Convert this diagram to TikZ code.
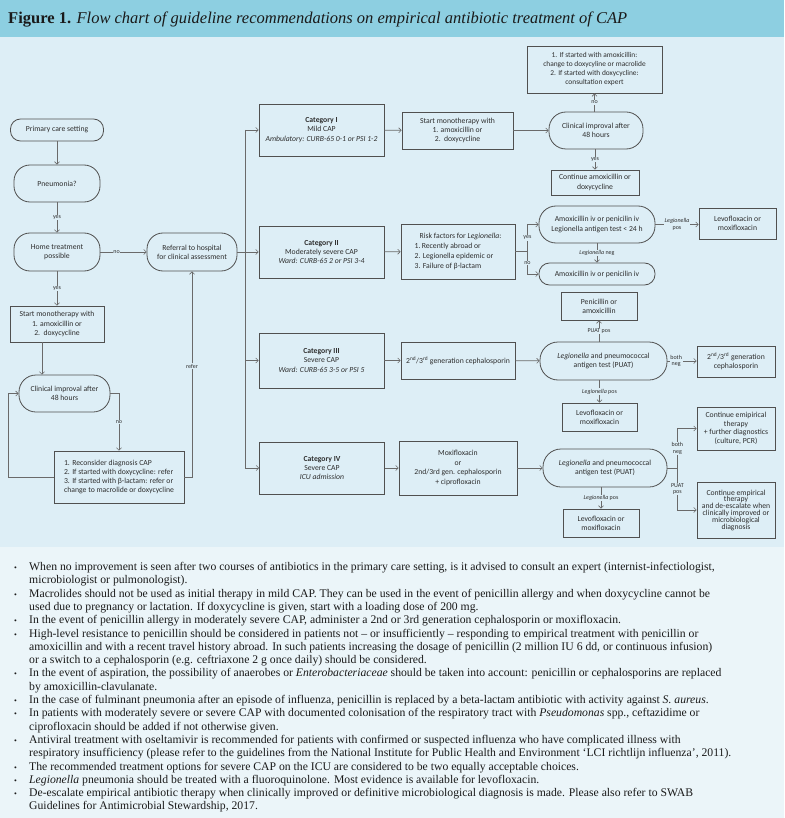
\documentclass[tikz,border=0pt]{standalone}
\usepackage{fontspec}
\setmainfont{Liberation Serif}
\newfontfamily\chartfont{Carlito}
\usetikzlibrary{arrows.meta}
\definecolor{hdr}{HTML}{8DCFE1}
\definecolor{chartbg}{HTML}{DDEEF6}
\definecolor{notebg}{HTML}{EBF5F9}
\definecolor{boxc}{HTML}{505050}
\definecolor{arrc}{HTML}{6A6A6A}
\definecolor{txtc}{HTML}{2E2E2E}
\definecolor{notec}{HTML}{1A1A1A}
\newcommand\notebul{\makebox[17pt][l]{\hspace{2pt}\fontsize{8}{8}\selectfont\textbullet}}
\begin{document}
\begin{tikzpicture}[x=1pt,y=-1pt,
      box/.style={draw=boxc,line width=0.8pt,align=center,inner sep=1pt,text=txtc,
        font=\chartfont\fontsize{7.7}{9.2}\selectfont},
      pill/.style={box,rounded corners=#1},
      lab/.style={fill=chartbg,inner sep=0.6pt,align=center,text=txtc,
        font=\chartfont\fontsize{6}{6.6}\selectfont},
      ln/.style={draw=arrc,line width=0.6pt},
      arr/.style={ln,-{Straight Barb[length=2.5pt,width=5pt]}}]
      \fill[hdr] (0,0) rectangle (784,37);
      \fill[chartbg] (0,37) rectangle (784,547);
      \fill[notebg] (0,547) rectangle (784,818);
      \node[anchor=west,inner sep=0,text=notec,font=\fontsize{16.5}{19}\selectfont] (title) at (8,20)
        {\textbf{Figure 1.} \textit{Flow chart of guideline recommendations on empirical antibiotic treatment of CAP}};
      % primary care
      \node[pill=10pt,minimum width=93pt,minimum height=22pt] (prim) at (57,130) {Primary care setting};
      \node[pill=16pt,minimum width=86pt,minimum height=37pt] (pneu) at (57,183.5) {Pneumonia?};
      \node[pill=16pt,minimum width=86pt,minimum height=38pt] (home) at (57,252) {Home treatment\\possible};
      \node[pill=16pt,minimum width=90pt,minimum height=38pt] (ref) at (192,252) {Referral to hospital\\for clinical assessment};
      \node[box,minimum width=94pt,minimum height=36pt] (mono) at (57,324) {Start monotherapy with\\1. amoxicillin or\\2.\ \ doxycycline};
      \node[pill=17pt,minimum width=91pt,minimum height=37pt] (clin) at (64.5,393.5) {Clinical improval after\\48 hours};
      \node[box,align=left,minimum width=130pt,minimum height=52pt] (recon) at (119,477) {1. Reconsider diagnosis CAP\\2. If started with doxycycline: refer\\3. If started with β-lactam: refer or\\change to macrolide or doxycycline};
      % categories
      \node[box,minimum width=125pt,minimum height=52pt] (c1) at (321.5,130) {\textbf{Category I}\\Mild CAP\\\textit{Ambulatory: CURB-65 0-1 or PSI 1-2}};
      \node[box,minimum width=125pt,minimum height=52pt] (c2) at (321.5,252) {\textbf{Category II}\\Moderately severe CAP\\\textit{Ward: CURB-65 2 or PSI 3-4}};
      \node[box,minimum width=125pt,minimum height=55pt] (c3) at (321.5,360.5) {\textbf{Category III}\\Severe CAP\\\textit{Ward: CURB-65 3-5 or PSI 5}};
      \node[box,minimum width=125pt,minimum height=52pt] (c4) at (322,468) {\textbf{Category IV}\\Severe CAP\\\textit{ICU admission}};
      \node[box,minimum width=111pt,minimum height=37pt] (m1) at (457.5,130.5) {Start monotherapy with\\1. amoxicillin or\\2.\ \ doxycycline};
      \node[box,align=left,font=\chartfont\fontsize{7.7}{9.7}\selectfont,minimum width=114pt,minimum height=55pt] (rf) at (458,251.5) {\hspace*{5pt}Risk factors for \textit{Legionella}:\\1.\,Recently abroad or\\2. Legionella epidemic or\\3. Failure of β-lactam};
      \node[box,minimum width=114pt,minimum height=37pt] (ceph) at (458,360.5) {2\textsuperscript{nd}/3\textsuperscript{rd} generation cephalosporin};
      \node[box,font=\chartfont\fontsize{7.7}{9.7}\selectfont,minimum width=118pt,minimum height=54pt] (moxi) at (458,468) {Moxifloxacin\\or\\2nd/3rd gen. cephalosporin\\+ ciprofloxacin};
      % category I
      \node[box,font=\chartfont\fontsize{7.4}{9}\selectfont,minimum width=135pt,minimum height=47pt] (ex) at (594.5,69.5) {1. If started with amoxicillin:\\change to doxycyline or macrolide\\2. If started with doxycycline:\\consultation expert};
      \node[pill=17pt,minimum width=94pt,minimum height=37pt] (cl1) at (596,130.5) {Clinical improval after\\48 hours};
      \node[box,minimum width=88pt,minimum height=25pt] (cont) at (595,182.5) {Continue amoxicillin or\\doxycycline};
      % category II
      \node[pill=17pt,minimum width=116pt,minimum height=37pt] (amox1) at (597,224.5) {Amoxicillin iv or penicilin iv\\Legionella antigen test < 24 h};
      \node[pill=10.5pt,minimum width=116pt,minimum height=22pt] (amox2) at (597,274) {Amoxicillin iv or penicilin iv};
      \node[box,minimum width=77pt,minimum height=31pt] (levo1) at (737.5,223.5) {Levofloxacin or\\moxifloxacin};
      % category III
      \node[box,minimum width=76pt,minimum height=28pt] (pen) at (599,306) {Penicillin or\\amoxicillin};
      \node[pill=18pt,minimum width=127pt,minimum height=38pt] (puat3) at (603.5,361) {\textit{Legionella} and pneumococcal\\antigen test (PUAT)};
      \node[box,minimum width=78pt,minimum height=31pt] (ceph2) at (736,361.5) {2\textsuperscript{nd}/3\textsuperscript{rd} generation\\cephalosporin};
      \node[box,minimum width=75pt,minimum height=28pt] (levo3) at (599.5,417) {Levofloxacin or\\moxifloxacin};
      % category IV
      \node[pill=18pt,minimum width=124pt,minimum height=38pt] (puat4) at (605,468) {\textit{Legionella} and pneumococcal\\antigen test (PUAT)};
      \node[box,minimum width=76pt,minimum height=28pt] (levo4) at (601,523) {Levofloxacin or\\moxifloxacin};
      \node[box,font=\chartfont\fontsize{7.7}{8.6}\selectfont,minimum width=78pt,minimum height=43pt] (cont4a) at (736,428.5) {Continue emipirical\\therapy\\+ further diagnostics\\(culture, PCR)};
      \node[box,font=\chartfont\fontsize{7.7}{6.8}\selectfont,minimum width=78pt,minimum height=56pt] (cont4b) at (736,510) {Continue empirical\\therapy\\and de-escalate when\\clinically improved or\\microbiological\\diagnosis};
      % connectors
      \draw[arr] (prim) -- (pneu);
      \draw[arr] (pneu) -- (home) node[lab,midway]{yes};
      \draw[arr] (home) -- (ref) node[lab,pos=0.35]{no};
      \draw[arr] (home) -- (mono) node[lab,midway]{yes};
      \draw[arr] ([xshift=-15pt]mono.south) -- ([xshift=-15pt]mono.south |- clin.north);
      \draw[arr] (clin.east) -| (recon.north) node[lab,pos=0.75]{no};
      \draw[arr] (recon.west) -- ++(-45,0) |- (clin.west);
      \draw[arr] (recon.east) -| (ref.south) node[lab,pos=0.77]{refer};
      \draw[ln] (ref.east) -- ++(8,0) coordinate (tr);
      \draw[ln] (tr |- c1.west) -- (tr |- c4.west);
      \draw[arr] (tr |- c1.west) -- (c1.west);
      \draw[arr] (tr |- c2.west) -- (c2.west);
      \draw[arr] (tr |- c3.west) -- (c3.west);
      \draw[arr] (tr |- c4.west) -- (c4.west);
      \draw[arr] (c1) -- (m1);
      \draw[arr] (c2) -- (rf);
      \draw[arr] (c3) -- (ceph);
      \draw[arr] (c4) -- (moxi);
      \draw[arr] (m1) -- (cl1);
      \draw[arr] (ex.south |- cl1.north) -- (ex.south) node[lab,midway]{no};
      \draw[arr] (cont.north |- cl1.south) -- (cont.north) node[lab,midway]{yes};
      \draw[ln] (rf.east) -- ++(12,0) coordinate (b2);
      \draw[arr] (b2) |- (amox1.west) node[lab,pos=0.25]{yes};
      \draw[arr] (b2) |- (amox2.west) node[lab,pos=0.25]{no};
      \draw[arr] (amox1) -- (levo1.west |- amox1) node[lab,midway]{\textit{Legionella}\\pos};
      \draw[arr] (amox1) -- (amox2) node[lab,midway]{\textit{Legionella} neg};
      \draw[arr] (ceph) -- (puat3);
      \draw[arr] (pen.south |- puat3.north) -- (pen.south) node[lab,midway]{PUAT pos};
      \draw[arr] (puat3) -- (ceph2.west |- puat3) node[lab,pos=0.3]{both\\neg};
      \draw[arr] (levo3.north |- puat3.south) -- (levo3.north) node[lab,midway]{\textit{Legionella} pos};
      \draw[arr] (moxi) -- (puat4);
      \draw[ln] (puat4.east) -- ++(10,0) coordinate (b4);
      \draw[arr] (b4) |- (cont4a.west) node[lab,pos=0.25]{both\\neg};
      \draw[arr] (b4) |- (cont4b.west) node[lab,pos=0.25]{PUAT\\pos};
      \draw[arr] (levo4.north |- puat4.south) -- (levo4.north) node[lab,midway]{\textit{Legionella} pos};
      % notes
      \node[anchor=north west,inner sep=0,text=notec,font=\fontsize{11.7}{13.3}\selectfont] (notes) at (12,561) {%
        \begin{tabular}{@{}l@{}l@{}}
        \notebul & When no improvement is seen after two courses of antibiotics in the primary care setting, is it advised to consult an expert (internist-infectiologist,\\
        & microbiologist or pulmonologist).\\
        \notebul & Macrolides should not be used as initial therapy in mild CAP. They can be used in the event of penicillin allergy and when doxycycline cannot be\\
        & used due to pregnancy or lactation. If doxycycline is given, start with a loading dose of 200 mg.\\
        \notebul & In the event of penicillin allergy in moderately severe CAP, administer a 2nd or 3rd generation cephalosporin or moxifloxacin.\\
        \notebul & High-level resistance to penicillin should be considered in patients not – or insufficiently – responding to empirical treatment with penicillin or\\
        & amoxicillin and with a recent travel history abroad. In such patients increasing the dosage of penicillin (2 million IU 6 dd, or continuous infusion)\\
        & or a switch to a cephalosporin (e.g. ceftriaxone 2 g once daily) should be considered.\\
        \notebul & In the event of aspiration, the possibility of anaerobes or \textit{Enterobacteriaceae} should be taken into account: penicillin or cephalosporins are replaced\\
        & by amoxicillin-clavulanate.\\
        \notebul & In the case of fulminant pneumonia after an episode of influenza, penicillin is replaced by a beta-lactam antibiotic with activity against \textit{S. aureus}.\\
        \notebul & In patients with moderately severe or severe CAP with documented colonisation of the respiratory tract with \textit{Pseudomonas} spp., ceftazidime or\\
        & ciprofloxacin should be added if not otherwise given.\\
        \notebul & Antiviral treatment with oseltamivir is recommended for patients with confirmed or suspected influenza who have complicated illness with\\
        & respiratory insufficiency (please refer to the guidelines from the National Institute for Public Health and Environment ‘LCI richtlijn influenza’, 2011).\\
        \notebul & The recommended treatment options for severe CAP on the ICU are considered to be two equally acceptable choices.\\
        \notebul & \textit{Legionella} pneumonia should be treated with a fluoroquinolone. Most evidence is available for levofloxacin.\\
        \notebul & De-escalate empirical antibiotic therapy when clinically improved or definitive microbiological diagnosis is made. Please also refer to SWAB\\
        & Guidelines for Antimicrobial Stewardship, 2017.
        \end{tabular}};
  \end{tikzpicture}
\end{document}
